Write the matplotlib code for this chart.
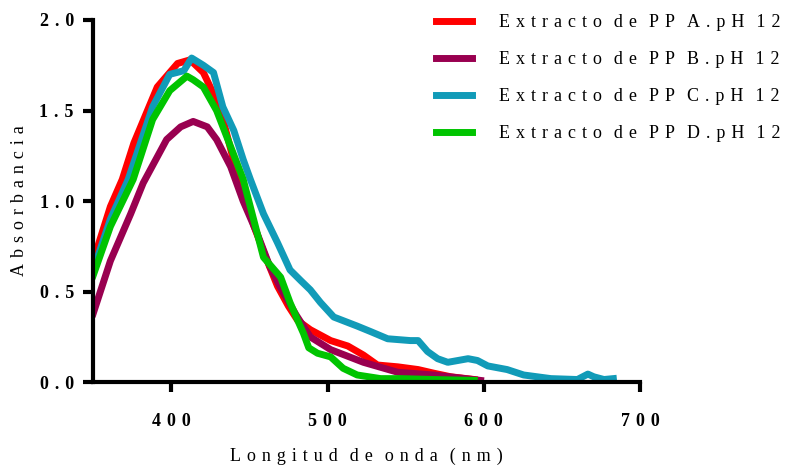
import matplotlib
matplotlib.use("Agg")
import matplotlib.pyplot as plt

plt.rcParams['font.family'] = ['Liberation Serif', 'DejaVu Serif']

# Extracto de PP A
a_x = [350, 361, 368.6, 376, 391, 404, 412, 420.5, 431, 440, 446, 453, 460, 468, 475, 481, 489, 502, 513, 523, 532, 545, 558, 568, 579, 594]
a_y = [0.67, 0.97, 1.12, 1.32, 1.63, 1.76, 1.78, 1.71, 1.52, 1.22, 1.06, 0.86, 0.70, 0.53, 0.42, 0.34, 0.29, 0.23, 0.20, 0.15, 0.095, 0.085, 0.07, 0.05, 0.03, 0.015]
# Extracto de PP B
b_x = [350, 361, 374, 382, 397, 406, 414, 423, 429, 438, 446, 455, 463, 470, 480, 489, 502, 523, 545, 568, 598]
b_y = [0.38, 0.67, 0.93, 1.10, 1.34, 1.41, 1.44, 1.41, 1.34, 1.19, 1.00, 0.82, 0.64, 0.52, 0.37, 0.25, 0.18, 0.11, 0.055, 0.04, 0.01]
# Extracto de PP C
c_x = [350, 361, 372.4, 388, 399, 408, 413, 420.5, 427, 433, 440, 446, 450.6, 459, 468, 476, 483, 489, 495.5, 504, 513, 519, 527.5,
       538.5, 553, 558, 564, 570.5, 577, 590, 596, 602.6, 615, 625.6, 643, 660, 666.7, 670.5, 677, 683]
c_y = [0.62, 0.90, 1.12, 1.52, 1.70, 1.72, 1.79, 1.75, 1.71, 1.52, 1.39, 1.23, 1.12, 0.93, 0.77, 0.62, 0.56, 0.51, 0.44, 0.36, 0.33, 0.31, 0.28,
       0.24, 0.23, 0.23, 0.17, 0.13, 0.11, 0.13, 0.12, 0.09, 0.07, 0.04, 0.02, 0.015, 0.045, 0.03, 0.015, 0.02]
# Extracto de PP D
d_x = [350, 361, 375.6, 388, 399, 410, 414, 420.5, 429, 438, 446, 459, 470, 476, 481, 484.6, 488, 493.6, 502, 510, 519, 534, 547, 568, 594]
d_y = [0.59, 0.86, 1.12, 1.45, 1.61, 1.69, 1.67, 1.63, 1.50, 1.30, 1.12, 0.69, 0.58, 0.44, 0.34, 0.27, 0.19, 0.16, 0.14, 0.077, 0.04, 0.02, 0.02, 0.015, 0.01]

labels = ["Extracto de PP A.pH 12", "Extracto de PP B.pH 12",
          "Extracto de PP C.pH 12", "Extracto de PP D.pH 12"]
colors = ["#ff0000", "#990050", "#119bb8", "#00c400"]

SP = "\u2004"  # three-per-em space for the letter spacing


def spaced(s):
    return (SP * 2).join(SP.join(w) for w in s.split(" "))


fig = plt.figure(figsize=(7.9, 4.65), dpi=100)
ax = fig.add_axes([0.118, 0.178, 0.692, 0.779])

for xs, ys, lab, col in zip([a_x, b_x, c_x, d_x], [a_y, b_y, c_y, d_y], labels, colors):
    ax.plot(xs, ys, color=col, lw=5, label=spaced(lab), solid_joinstyle="round")

ax.set_xlim(350, 700)
ax.set_ylim(0, 2.0)
ax.set_xticks([400, 500, 600, 700])
ax.set_xticklabels([spaced(str(v)) for v in [400, 500, 600, 700]], fontweight="bold", fontsize=13)
ax.set_yticks([0, 0.5, 1.0, 1.5, 2.0])
ax.set_yticklabels([spaced("%.1f" % v) for v in [0, 0.5, 1.0, 1.5, 2.0]], fontweight="bold", fontsize=13)

for s in ["top", "right"]:
    ax.spines[s].set_visible(False)
for s in ["left", "bottom"]:
    ax.spines[s].set_linewidth(3)
ax.tick_params(width=3, length=7)
ax.tick_params(axis="x", pad=15)
ax.tick_params(axis="y", pad=7)

ax.set_xlabel(spaced("Longitud de onda (nm)"), fontsize=13, labelpad=13)
ax.set_ylabel(spaced("Absorbancia"), fontsize=13, labelpad=8)

ax.legend(loc="upper left", bbox_to_anchor=(0.531, 1.004), bbox_transform=fig.transFigure,
          frameon=False, fontsize=13, handlelength=2.0, handletextpad=1.5, labelspacing=1.1)

fig.savefig("out.png", dpi=100)
